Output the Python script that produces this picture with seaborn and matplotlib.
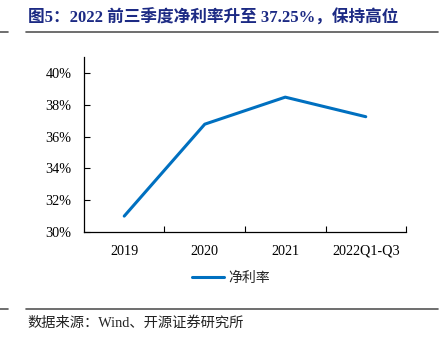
import matplotlib
matplotlib.use("Agg")
import matplotlib.pyplot as plt
import seaborn as sns
import pandas as pd
from matplotlib.lines import Line2D
from matplotlib.ticker import FixedLocator

categories = ["2019", "2020", "2021", "2022Q1-Q3"]
net_margin = [31.0, 36.78, 38.48, 37.25]
yticks = [30, 32, 34, 36, 38, 40]
series_name = "净利率"
title = "图5：2022 前三季度净利率升至 37.25%，保持高位"
source = "数据来源：Wind、开源证券研究所"

sns.set_theme(style="white")
plt.rcParams['font.family'] = ['Liberation Serif', 'Noto Sans CJK SC']

df = pd.DataFrame({"cat": categories, "val": net_margin, "series": series_name})

fig = plt.figure(figsize=(4.42, 3.48), dpi=100)
ax = fig.add_axes([0.190, 0.3333, 0.7286, 0.5027])

sns.lineplot(data=df, x="cat", y="val", hue="series", palette=["#0070C0"],
             linewidth=2.2, sort=False, ax=ax, legend=False)

ax.set_xlim(-0.5, 3.5)
ax.set_ylim(30, 41)
ax.set_yticks(yticks)
ax.set_yticklabels([f"{v}%" for v in yticks])
ax.set_xticks(range(len(categories)))
ax.set_xticklabels(categories)
ax.xaxis.set_minor_locator(FixedLocator([0.5, 1.5, 2.5, 3.5]))
ax.tick_params(axis='x', which='major', length=0, pad=9, labelsize=10.2, colors='black')
ax.tick_params(axis='x', which='minor', direction='in', length=4, width=0.8, color='black', bottom=True)
ax.tick_params(axis='y', direction='in', length=4, width=0.8, pad=9, labelsize=10.2,
               color='black', left=True, labelcolor='black')
ax.set_xlabel("")
ax.set_ylabel("")
for s in ["top", "right"]:
    ax.spines[s].set_visible(False)
for s in ["left", "bottom"]:
    ax.spines[s].set_color("black")
    ax.spines[s].set_linewidth(0.9)
ax.grid(False)

handle = Line2D([], [], color="#0070C0", linewidth=2.2)
fig.legend([handle], [series_name], loc="center", bbox_to_anchor=(0.523, 0.201),
           frameon=False, handlelength=2.3, handletextpad=0.3,
           prop={'family': ['Noto Sans CJK SC'], 'size': 10})

fig.text(0.063, 0.948, title, fontsize=12, fontweight='bold', color="#1c2a84",
         ha='left', va='center')
fig.text(0.061, 0.072, source, fontsize=10.3, color="#222222", ha='left', va='center',
         family=['Liberation Serif', 'Noto Sans CJK SC'])

line_kw = dict(color="#555555", linewidth=1.2, transform=fig.transFigure)
fig.add_artist(Line2D([0.0, 0.017], [1 - 32 / 348] * 2, **line_kw))
fig.add_artist(Line2D([0.059, 0.991], [1 - 32 / 348] * 2, **line_kw))
fig.add_artist(Line2D([0.0, 0.017], [1 - 309 / 348] * 2, **line_kw))
fig.add_artist(Line2D([0.059, 0.991], [1 - 309 / 348] * 2, **line_kw))

fig.savefig("out.png", dpi=100)
